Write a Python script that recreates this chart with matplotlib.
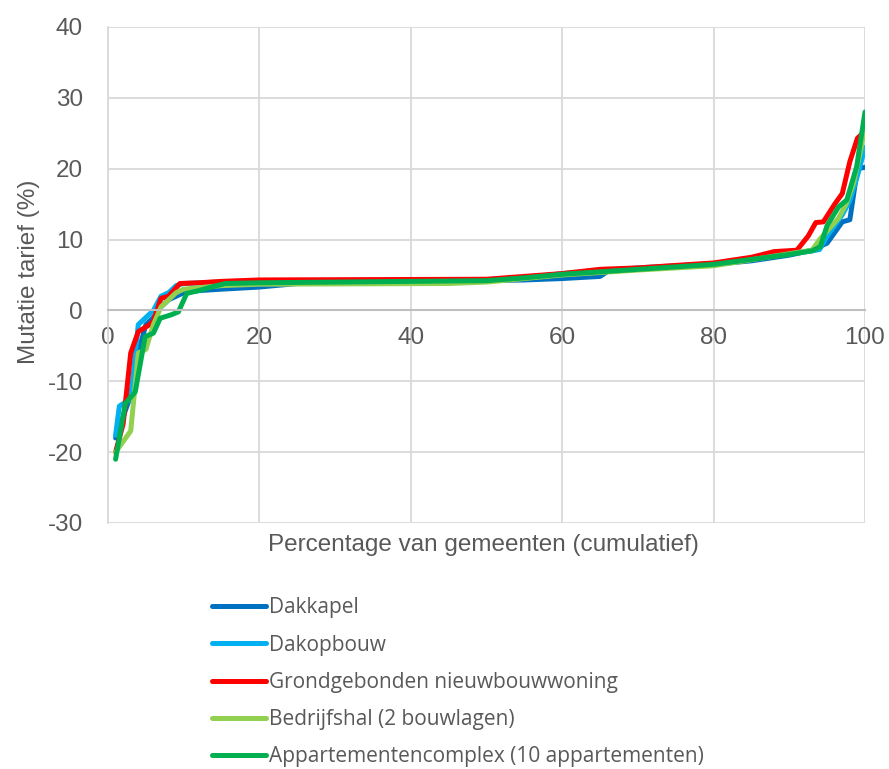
import matplotlib.pyplot as plt

plt.rcParams["axes.unicode_minus"] = False

# Mutatie tarief per gemeente, gesorteerd (cumulatief percentage gemeenten)
dakkapel_x = [1, 2, 3, 4, 5, 6, 7, 8, 9, 10, 12, 15, 20, 25, 50, 55, 60, 65, 66, 70, 75, 80, 85, 90, 93, 95, 96, 97, 98, 99, 100]
dakkapel_y = [-18, -15, -12, -6, -2, -1, 0.5, 1.5, 2, 2.5, 2.8, 3.0, 3.3, 3.8, 4.2, 4.3, 4.5, 4.8, 5.5, 5.8, 6.2, 6.5, 7, 7.8, 8.5, 9.5, 11, 12.5, 12.8, 20, 20.2]

dakopbouw_x = [1, 1.5, 3, 4, 5, 6, 7, 8, 9, 10, 15, 20, 50, 55, 60, 70, 80, 85, 90, 93, 94, 95, 96, 97, 98, 99, 100]
dakopbouw_y = [-17.6, -13.5, -12.5, -2, -1, 0, 2, 2.5, 3.5, 3.8, 4.0, 4.1, 4.2, 4.6, 5.2, 6.0, 6.6, 7.3, 8.0, 8.4, 8.6, 10.5, 12, 13.5, 15.5, 19, 23]

grond_x = [1, 2, 3, 4, 5.5, 6, 7, 8, 9.5, 12, 15, 20, 50, 60, 65, 70, 80, 85, 88, 91, 92.5, 93.5, 94.5, 96, 97, 98, 99, 100]
grond_y = [-20, -16, -6, -3, -2, -1.5, 1.7, 2, 3.8, 3.9, 4.1, 4.3, 4.4, 5.2, 5.8, 6.0, 6.7, 7.5, 8.3, 8.5, 10.5, 12.4, 12.5, 15, 16.5, 21, 24.3, 25.3]

bedrijfshal_x = [1, 2, 3, 4, 5, 6, 7, 8, 9, 10, 15, 20, 45, 50, 55, 60, 70, 80, 90, 93, 94, 95.5, 96.5, 97.5, 98.5, 99.5, 100]
bedrijfshal_y = [-20, -18.5, -17, -6, -5.5, -2, 0.5, 1.5, 2.5, 3, 3.5, 3.7, 3.8, 4.0, 4.5, 5.0, 5.7, 6.3, 8.0, 8.5, 10, 11.8, 13, 15, 18, 23, 26]

appartement_x = [1, 2.3, 3.6, 4.9, 6, 6.9, 8.4, 9.3, 10.4, 12, 14, 15.5, 20, 50, 55, 60, 70, 80, 85, 90, 93, 94.1, 95, 96.5, 97.6, 98.9, 100]
appartement_y = [-21, -13.1, -11.5, -3.7, -3.2, -1.1, -0.6, -0.2, 2.4, 2.8, 3.4, 3.8, 3.9, 4.2, 4.6, 5.1, 5.8, 6.5, 7.2, 7.9, 8.4, 9.0, 12, 14.6, 15.6, 20.3, 28]

labels = ["Dakkapel", "Dakopbouw", "Grondgebonden nieuwbouwwoning",
          "Bedrijfshal (2 bouwlagen)", "Appartementencomplex (10 appartementen)"]
colors = ["#0070C0", "#00B0F0", "#FF0000", "#92D050", "#00B050"]

series = [(dakkapel_x, dakkapel_y), (dakopbouw_x, dakopbouw_y), (grond_x, grond_y),
          (bedrijfshal_x, bedrijfshal_y), (appartement_x, appartement_y)]

tekst = "#595959"
fig = plt.figure(figsize=(8.89, 7.69), dpi=100)
ax = fig.add_axes([0.1215, 0.3199, 0.8515, 0.645])

for (xs, ys), lab, col in zip(series, labels, colors):
    ax.plot(xs, ys, color=col, lw=3.6, label=lab, solid_joinstyle="round", solid_capstyle="round")

ax.set_xlim(0, 100)
ax.set_ylim(-30, 40)
ax.set_xticks(range(0, 101, 20))
ax.set_yticks(range(-30, 41, 10))
ax.grid(True, color="#D9D9D9", lw=1.3)
ax.set_axisbelow(True)

for s in ["top", "right"]:
    ax.spines[s].set_visible(False)
ax.spines["left"].set_color("#D9D9D9")
ax.spines["left"].set_linewidth(1.3)
ax.spines["bottom"].set_position(("data", 0))
ax.spines["bottom"].set_color("#BFBFBF")
ax.spines["bottom"].set_linewidth(1.5)

ax.tick_params(axis="both", length=0, labelsize=17.5, labelcolor=tekst)
ax.tick_params(axis="y", pad=18)
ax.tick_params(axis="x", pad=12)
for t in ax.get_xticklabels() + ax.get_yticklabels():
    t.set_fontfamily("Liberation Sans")

fig.text(0.033, 0.646, "Mutatie tarief (%)", rotation=90, ha="center", va="center",
         fontsize=17.5, color=tekst, family="Liberation Sans")
fig.text(0.544, 0.291, "Percentage van gemeenten (cumulatief)", ha="center", va="center",
         fontsize=17.5, color=tekst, family="Liberation Sans")

leg = fig.legend(loc="upper left", bbox_to_anchor=(202 / 889, 1 - 587 / 769),
                 frameon=False, borderpad=0, handlelength=2.55, handletextpad=0.18,
                 labelspacing=0.78, prop={"family": "Open Sans", "size": 15})
for t in leg.get_texts():
    t.set_color(tekst)
for h in leg.get_lines():
    h.set_linewidth(3.6)

fig.savefig("out.png", dpi=100)
